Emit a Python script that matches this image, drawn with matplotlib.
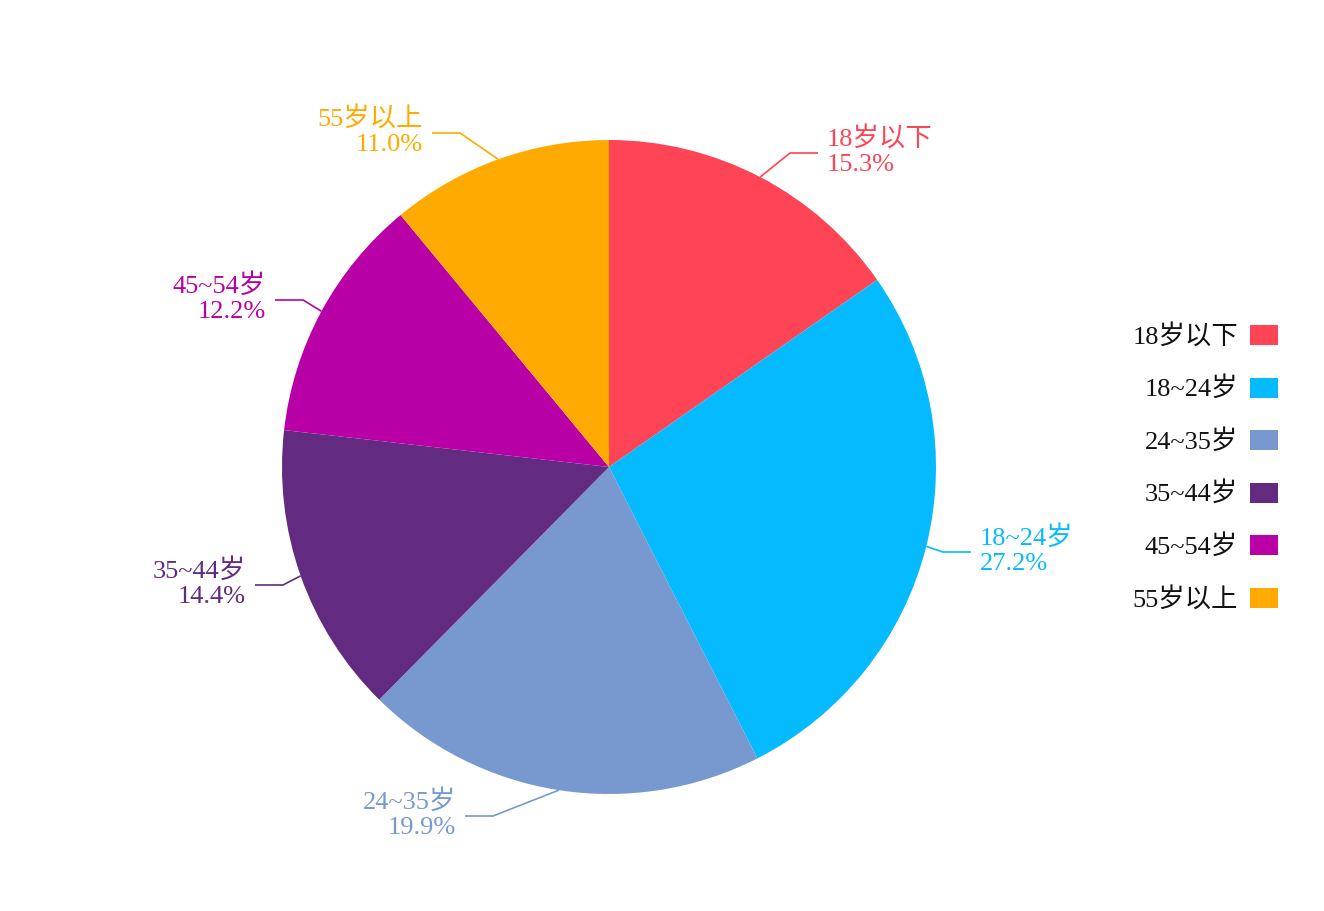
import numpy as np
import matplotlib
matplotlib.use("Agg")
import matplotlib.pyplot as plt
from matplotlib.patches import Rectangle

plt.rcParams['font.family'] = ['Liberation Serif', 'Noto Sans CJK SC', 'DejaVu Sans']

# Data
labels = ["18岁以下", "18~24岁", "24~35岁", "35~44岁", "45~54岁", "55岁以上"]
shares = [15.3, 27.2, 19.9, 14.4, 12.2, 11.0]
colors = ["#FF4455", "#05BAFF", "#7799CF", "#622A80", "#B800A6", "#FFAA00"]

W, H = 1324, 912
cx, cy, R = 609, 468, 327  # pie centre / radius in pixels

# elbow points of the leader lines (pixels relative to centre, y up)
elbows = [(181, 314), (334, -85), (-116, -349), (-326, -118), (-306, 167), (-149, 334)]

fig = plt.figure(figsize=(W / 100, H / 100), dpi=100)
ax = fig.add_axes([0, 0, 1, 1])

wedges, _ = ax.pie(shares, colors=colors, startangle=90, counterclock=False,
                   radius=1, center=(0, 0), wedgeprops=dict(linewidth=0))
ax.set_aspect("auto")
ax.set_xlim(-cx / R, (W - cx) / R)
ax.set_ylim(-(H - cy) / R, cy / R)
ax.axis("off")

# Outside labels with elbow leader lines
for w, lab, val, col, (ex, ey) in zip(wedges, labels, shares, colors, elbows):
    mid = np.deg2rad((w.theta1 + w.theta2) / 2)
    x0, y0 = np.cos(mid), np.sin(mid)
    ex, ey = ex / R, ey / R
    side = 1 if x0 >= 0 else -1
    hx = ex + side * 28 / R
    ax.plot([x0, ex, hx], [y0, ey, ey], color=col, lw=1.2, solid_capstyle="butt")
    ax.text(hx + side * 9 / R, ey + 3 / R, f"{lab}\n{val:.1f}%", color=col, fontsize=19,
            ha="left" if side > 0 else "right", va="center", linespacing=1.2,
            multialignment="left" if side > 0 else "right")

# Legend on the right
for i, (lab, col) in enumerate(zip(labels, colors)):
    yc = 336 + i * 52.6
    fig.patches.append(Rectangle((1250 / W, 1 - (yc + 10) / H), 28 / W, 20 / H,
                                 transform=fig.transFigure, facecolor=col,
                                 edgecolor="none"))
    fig.text(1238 / W, 1 - yc / H, lab, fontsize=19, ha="right", va="center",
             color="#111111")

fig.savefig("out.png", dpi=100, facecolor="white")
